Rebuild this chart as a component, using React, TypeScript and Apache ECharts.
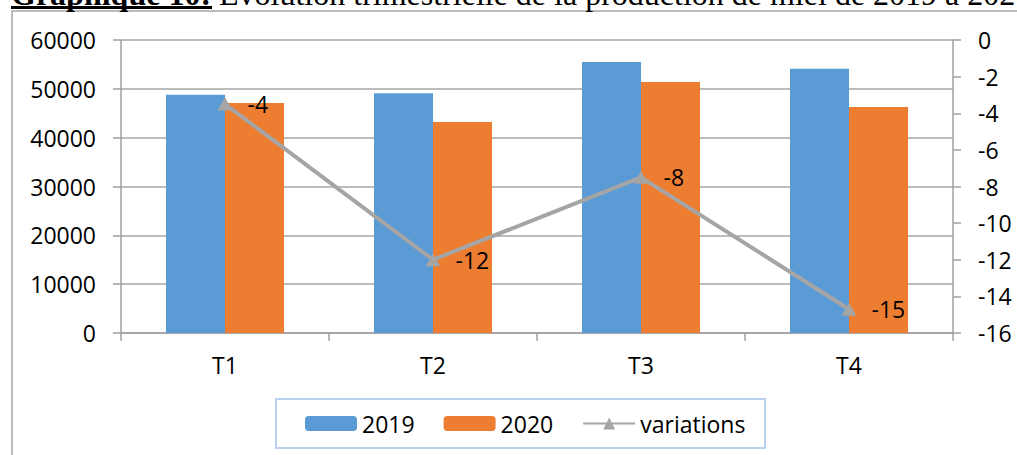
import React, { useEffect, useRef } from "react";
import * as echarts from "echarts";

const categories = ["T1", "T2", "T3", "T4"];
const prod2019 = [48800, 49100, 55500, 54100];
const prod2020 = [47100, 43200, 51400, 46300];
const variations = [-3.5, -12.0, -7.5, -14.7];
const seriesNames = ["2019", "2020", "variations"];
const titleBold = "Graphique 10:";
const titleRest = " Evolution trimestrielle de la production de miel de 2019 à 2020";

const FONT = "'Open Sans', 'Liberation Sans', sans-serif";

export default function App() {
  const ref = useRef<HTMLDivElement>(null);
  useEffect(() => {
    if (!ref.current) return;
    const chart = echarts.init(ref.current, undefined, { renderer: "svg" });
    const roundAway = (v: number) => (v < 0 ? -Math.round(-v) : Math.round(v));
    chart.setOption({
      animation: false,
      backgroundColor: "#ffffff",
      textStyle: { fontFamily: FONT },
      graphic: [
        {
          type: "rect",
          z: -10,
          shape: { x: 12, y: 11, width: 1100, height: 600 },
          style: { fill: "none", stroke: "#a6a6a6", lineWidth: 1.5 },
          silent: true,
        },
        {
          type: "rect",
          z: -5,
          shape: { x: 276, y: 399, width: 489, height: 49 },
          style: { fill: "none", stroke: "#b9d1ef", lineWidth: 2 },
          silent: true,
        },
        {
          type: "text",
          x: 11,
          y: -6,
          style: {
            text: "{b|" + titleBold + "}{r|" + titleRest + "}",
            verticalAlign: "middle",
            rich: {
              b: { fontFamily: "'Liberation Serif', serif", fontWeight: "bold", fontSize: 32, fill: "#000" },
              r: { fontFamily: "'Liberation Serif', serif", fontSize: 32, fill: "#000" },
            },
          },
          silent: true,
        },
        {
          type: "rect",
          shape: { x: 11, y: 6, width: 201, height: 3 },
          style: { fill: "#000" },
          silent: true,
        },
      ],
      legend: {
        left: 300,
        top: 407,
        itemWidth: 52,
        itemHeight: 15,
        itemGap: 29,
        data: seriesNames,
        textStyle: { fontSize: 23, color: "#000", fontFamily: FONT },
      },
      grid: { left: 121, right: 64, top: 40, bottom: 122 },
      xAxis: {
        type: "category",
        data: categories,
        axisLine: { lineStyle: { color: "#a0a0a0", width: 1.5 } },
        axisTick: { show: true, length: 8, alignWithLabel: false, lineStyle: { color: "#a0a0a0", width: 1.5 } },
        axisLabel: { margin: 20, color: "#000", fontSize: 23, fontFamily: FONT },
      },
      yAxis: [
        {
          type: "value",
          min: 0,
          max: 60000,
          interval: 10000,
          axisLine: { show: true, lineStyle: { color: "#a0a0a0", width: 1.5 } },
          axisTick: { show: true, length: 8, lineStyle: { color: "#a0a0a0", width: 1.5 } },
          splitLine: { show: true, lineStyle: { color: "#a6a6a6", width: 1.5 } },
          axisLabel: {
            margin: 25,
            color: "#000",
            fontSize: 23,
            fontFamily: FONT,
            formatter: (v: number) => String(v),
          },
        },
        {
          type: "value",
          min: -16,
          max: 0,
          interval: 2,
          position: "right",
          axisLine: { show: true, lineStyle: { color: "#a0a0a0", width: 1.5 } },
          axisTick: { show: true, length: 8, lineStyle: { color: "#a0a0a0", width: 1.5 } },
          splitLine: { show: false },
          axisLabel: { margin: 25, color: "#000", fontSize: 23, fontFamily: FONT },
        },
      ],
      series: [
        {
          name: seriesNames[0],
          type: "bar",
          data: prod2019,
          barWidth: 59,
          barGap: "0%",
          itemStyle: { color: "#5b9bd5" },
        },
        {
          name: seriesNames[1],
          type: "bar",
          data: prod2020,
          barWidth: 59,
          barGap: "0%",
          itemStyle: { color: "#ed7d31" },
        },
        {
          name: seriesNames[2],
          type: "line",
          yAxisIndex: 1,
          data: variations,
          symbol: "triangle",
          symbolSize: [15, 13],
          lineStyle: { color: "#a5a5a5", width: 4 },
          itemStyle: { color: "#a5a5a5" },
          z: 5,
          label: {
            show: true,
            position: "right",
            distance: 15,
            color: "#000",
            fontSize: 23,
            fontFamily: FONT,
            formatter: (p: any) => String(roundAway(p.value)),
          },
        },
      ],
    });
    return () => chart.dispose();
  }, []);
  return (
    <div
      ref={ref}
      style={{ position: "fixed", left: 0, top: 0, width: 1017, height: 455 }}
    />
  );
}
